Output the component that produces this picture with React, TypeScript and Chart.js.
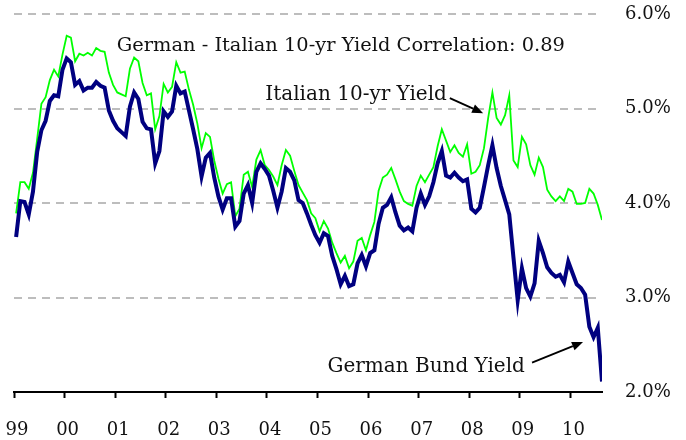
import React, { useEffect, useRef } from 'react';
import { Chart, registerables } from 'chart.js';

Chart.register(...registerables);

// Year tick labels (one tick each January, 1999..2010)
const yearLabels = ['99', '00', '01', '02', '03', '04', '05', '06', '07', '08', '09', '10'];

// Monthly yields, Jan 1999 .. Aug 2010 (%)
const germanYield = [
  3.64, 4.02, 4.01, 3.88, 4.12, 4.54, 4.77, 4.87, 5.08, 5.14, 5.13, 5.41,
  5.53, 5.49, 5.25, 5.29, 5.19, 5.22, 5.22, 5.28, 5.24, 5.22, 4.98, 4.87,
  4.79, 4.75, 4.71, 5.02, 5.17, 5.10, 4.86, 4.79, 4.78, 4.42, 4.55, 4.97,
  4.91, 4.97, 5.24, 5.16, 5.18, 4.98, 4.78, 4.57, 4.28, 4.48, 4.53, 4.27,
  4.07, 3.93, 4.05, 4.05, 3.75, 3.81, 4.10, 4.19, 4.00, 4.33, 4.42, 4.36,
  4.29, 4.13, 3.95, 4.12, 4.37, 4.33, 4.24, 4.03, 4.00, 3.89, 3.77, 3.66,
  3.58, 3.68, 3.65, 3.44, 3.30, 3.14, 3.23, 3.12, 3.14, 3.36, 3.45, 3.33,
  3.47, 3.50, 3.78, 3.95, 3.98, 4.06, 3.90, 3.76, 3.71, 3.74, 3.70, 3.95,
  4.10, 3.98, 4.07, 4.22, 4.42, 4.55, 4.29, 4.27, 4.32, 4.27, 4.23, 4.25,
  3.94, 3.90, 3.95, 4.17, 4.40, 4.61, 4.37, 4.18, 4.03, 3.88, 3.42, 2.97,
  3.31, 3.10, 3.01, 3.15, 3.60, 3.47, 3.32, 3.26, 3.22, 3.24, 3.16, 3.38,
  3.26, 3.14, 3.10, 3.03, 2.69, 2.58, 2.68, 2.11,
];

const italianYield = [
  3.89, 4.22, 4.22, 4.15, 4.32, 4.68, 5.05, 5.12, 5.30, 5.41, 5.34, 5.57,
  5.77, 5.75, 5.50, 5.58, 5.56, 5.59, 5.56, 5.64, 5.61, 5.60, 5.38, 5.25,
  5.17, 5.15, 5.13, 5.42, 5.54, 5.50, 5.27, 5.14, 5.16, 4.78, 4.92, 5.26,
  5.17, 5.23, 5.49, 5.38, 5.39, 5.20, 5.04, 4.84, 4.58, 4.74, 4.70, 4.45,
  4.26, 4.10, 4.20, 4.22, 3.86, 3.94, 4.30, 4.33, 4.17, 4.46, 4.56, 4.40,
  4.35, 4.28, 4.19, 4.40, 4.56, 4.50, 4.34, 4.19, 4.11, 4.03, 3.89, 3.84,
  3.70, 3.81, 3.73, 3.58, 3.47, 3.37, 3.44, 3.31, 3.38, 3.60, 3.63, 3.50,
  3.66, 3.80, 4.13, 4.27, 4.30, 4.37, 4.25, 4.12, 4.02, 3.99, 3.97, 4.18,
  4.29, 4.22, 4.30, 4.38, 4.60, 4.78, 4.66, 4.54, 4.61, 4.53, 4.49, 4.62,
  4.31, 4.33, 4.40, 4.58, 4.90, 5.17, 4.90, 4.83, 4.93, 5.14, 4.45, 4.38,
  4.70, 4.62, 4.40, 4.30, 4.48, 4.38, 4.14, 4.07, 4.02, 4.07, 4.02, 4.15,
  4.12, 3.99, 3.99, 4.00, 4.15, 4.10, 3.98, 3.82,
];

// Right-axis tick values (%)
const yTickValues = [2, 3, 4, 5, 6];

// Annotation texts (anchored in data coordinates: month index, yield)
const annotationTexts = [
  { text: 'German - Italian 10-yr Yield Correlation: 0.89', m: 24.4, v: 5.61, align: 'left', size: 19.4 },
  { text: 'Italian 10-yr Yield', m: 102.7, v: 5.09, align: 'right', size: 20 },
  { text: 'German Bund Yield', m: 121.2, v: 2.21, align: 'right', size: 20 },
];
const annotationArrows = [
  { from: [103.4, 5.11], to: [111.3, 4.95] },
  { from: [122.9, 2.31], to: [135.0, 2.53] },
];

const FONT_FAMILY = '"DejaVu Serif", serif';

export default function App() {
  const canvasRef = useRef<HTMLCanvasElement | null>(null);

  useEffect(() => {
    const canvas = canvasRef.current;
    if (!canvas) return;

    const annotPlugin = {
      id: 'annot',
      afterDatasetsDraw(chart: any) {
        const { ctx, scales } = chart;
        const x = scales.x;
        const y = scales.y;
        ctx.save();
        ctx.fillStyle = '#111';
        ctx.textBaseline = 'alphabetic';
        for (const a of annotationTexts) {
          ctx.font = `${a.size}px ${FONT_FAMILY}`;
          ctx.textAlign = a.align as CanvasTextAlign;
          ctx.fillText(a.text, x.getPixelForValue(a.m), y.getPixelForValue(a.v));
        }
        ctx.strokeStyle = '#000';
        ctx.fillStyle = '#000';
        ctx.lineWidth = 1.8;
        for (const ar of annotationArrows) {
          const x1 = x.getPixelForValue(ar.from[0]);
          const y1 = y.getPixelForValue(ar.from[1]);
          const x2 = x.getPixelForValue(ar.to[0]);
          const y2 = y.getPixelForValue(ar.to[1]);
          const ang = Math.atan2(y2 - y1, x2 - x1);
          const headLen = 11;
          const headW = 4.5;
          const bx = x2 - headLen * Math.cos(ang);
          const by = y2 - headLen * Math.sin(ang);
          ctx.beginPath();
          ctx.moveTo(x1, y1);
          ctx.lineTo(bx, by);
          ctx.stroke();
          ctx.beginPath();
          ctx.moveTo(x2, y2);
          ctx.lineTo(bx + headW * Math.sin(ang), by - headW * Math.cos(ang));
          ctx.lineTo(bx - headW * Math.sin(ang), by + headW * Math.cos(ang));
          ctx.closePath();
          ctx.fill();
        }
        ctx.restore();
      },
    };

    const chart = new Chart(canvas, {
      type: 'line',
      data: {
        datasets: [
          {
            label: 'German Bund Yield',
            data: germanYield.map((v, i) => ({ x: i + 0.5, y: v })),
            borderColor: '#000080',
            borderWidth: 4,
            pointRadius: 0,
            tension: 0,
            fill: false,
          },
          {
            label: 'Italian 10-yr Yield',
            data: italianYield.map((v, i) => ({ x: i + 0.5, y: v })),
            borderColor: '#00ff00',
            borderWidth: 1.8,
            pointRadius: 0,
            tension: 0,
            fill: false,
          },
        ],
      },
      options: {
        animation: false,
        responsive: false,
        events: [],
        layout: { padding: { left: 14, top: 14, right: 0, bottom: 0 } },
        plugins: { legend: { display: false }, tooltip: { enabled: false }, title: { display: false } },
        scales: {
          x: {
            type: 'linear',
            position: 'bottom',
            min: 0,
            max: 139.5,
            afterBuildTicks: (s: any) => {
              s.ticks = yearLabels.map((_, k) => ({ value: k * 12 }));
            },
            afterFit: (s: any) => {
              s.height = 48;
              s.paddingLeft = 0;
              s.paddingRight = 0;
              s.paddingTop = 0;
              s.paddingBottom = 0;
            },
            grid: {
              drawOnChartArea: false,
              drawTicks: true,
              tickLength: 6,
              tickColor: '#000',
              tickWidth: 2,
            },
            border: { display: true, color: '#000', width: 2 },
            ticks: {
              autoSkip: false,
              maxRotation: 0,
              labelOffset: 3,
              padding: 22,
              color: '#111',
              font: { family: FONT_FAMILY, size: 18 },
              callback: (v: any) => yearLabels[Math.round(Number(v) / 12)] ?? '',
            },
          },
          y: {
            type: 'linear',
            position: 'right',
            min: 2,
            max: 6,
            afterBuildTicks: (s: any) => {
              s.ticks = yTickValues.map((v) => ({ value: v }));
            },
            afterFit: (s: any) => {
              s.width = 84;
              s.paddingLeft = 0;
              s.paddingRight = 0;
              s.paddingTop = 0;
              s.paddingBottom = 0;
            },
            grid: {
              drawTicks: false,
              lineWidth: 2,
              color: (c: any) => (c.tick && c.tick.value === 2 ? 'rgba(0,0,0,0)' : '#bdbdbd'),
            },
            border: { display: false, dash: [8, 6] },
            ticks: {
              padding: 23,
              color: '#111',
              font: { family: FONT_FAMILY, size: 18 },
              callback: (v: any) => Number(v).toFixed(1) + '%',
            },
          },
        },
      },
      plugins: [annotPlugin],
    });

    return () => chart.destroy();
  }, []);

  return (
    <div style={{ position: 'fixed', left: 0, top: 0, width: 686, height: 440, background: '#fff' }}>
      <canvas ref={canvasRef} width={686} height={440} style={{ display: 'block' }} />
    </div>
  );
}
